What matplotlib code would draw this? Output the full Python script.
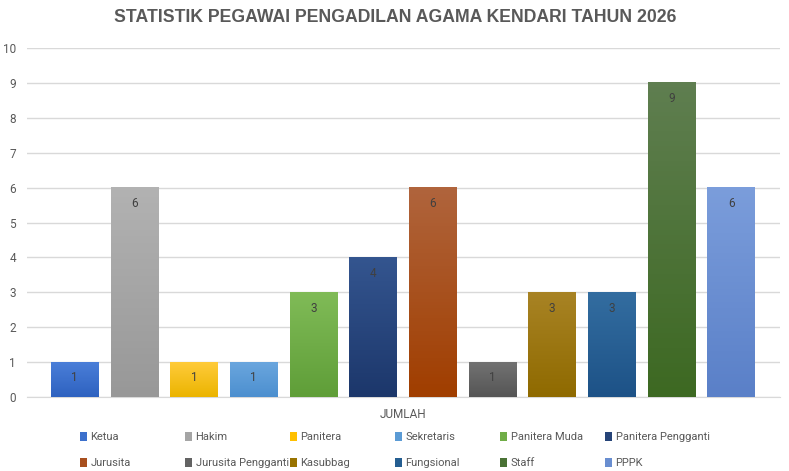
import matplotlib
matplotlib.use('Agg')
import matplotlib.pyplot as plt
import numpy as np
from matplotlib.colors import LinearSegmentedColormap

plt.rcParams['font.family'] = ['Roboto', 'Liberation Sans', 'DejaVu Sans']

categories = ['Ketua', 'Hakim', 'Panitera', 'Sekretaris', 'Panitera Muda', 'Panitera Pengganti',
              'Jurusita', 'Jurusita Pengganti', 'Kasubbag', 'Fungsional', 'Staff', 'PPPK']
values = [1, 6, 1, 1, 3, 4, 6, 1, 3, 3, 9, 6]
group_label = 'JUMLAH'
title = 'STATISTIK PEGAWAI PENGADILAN AGAMA KENDARI TAHUN 2026'

# (top, bottom) gradient colours
grad = [('#4a7ed8', '#2e62c0'), ('#b2b2b2', '#989898'), ('#ffcb3a', '#ebb400'),
        ('#6aa6de', '#4c8fcf'), ('#80bb57', '#5f9e38'), ('#34558f', '#1c376b'),
        ('#b0643c', '#a03e00'), ('#727272', '#555555'), ('#a88324', '#8f6a00'),
        ('#336da0', '#1d5287'), ('#5f7e50', '#3d6922'), ('#7b9ddb', '#5a80c8')]
mid = ['#3c70cc', '#a5a5a5', '#ffc000', '#5b9bd5', '#70ad47', '#264478',
       '#a84f1e', '#636363', '#997300', '#255e91', '#4a7235', '#698ed0']

fig = plt.figure(figsize=(7.89, 4.71), dpi=100)
ax = fig.add_axes([27/789, 1-397/471, (780-27)/789, (397-48)/471])

x = np.arange(len(values))
bars = ax.bar(x, values, width=0.8, color=mid, zorder=2)

for b, (top, bot) in zip(bars, grad):
    cmap = LinearSegmentedColormap.from_list('g', [bot, top])
    x0, w, h = b.get_x(), b.get_width(), b.get_height()
    ax.imshow(np.linspace(0, 1, 64).reshape(-1, 1), cmap=cmap, origin='lower',
              extent=(x0, x0 + w, 0, h), aspect='auto', zorder=3)
    ax.annotate(str(int(h)), (x0 + w/2, h), xytext=(0, -16), textcoords='offset points',
                ha='center', va='bottom', fontsize=8.5, color='#404040', zorder=4)

ax.set_xlim(-0.8, 11.82)
ax.set_ylim(0, 10)
ax.set_yticks(range(0, 11))
ax.set_xticks([(len(values) - 1) / 2])
ax.set_xticklabels([group_label])
ax.tick_params(length=0, labelsize=8.5, colors='#595959')
ax.tick_params(axis='y', pad=8)
ax.tick_params(axis='x', pad=8)
ax.grid(axis='y', color='#d9d9d9', linewidth=1, zorder=0)
ax.set_axisbelow(True)
for s in ['top', 'right', 'left']:
    ax.spines[s].set_visible(False)
ax.spines['bottom'].set_color('#d9d9d9')

fig.text(395/789, 1-18/471, title, ha='center', va='center', fontsize=12.7,
         fontweight='bold', color='#595959', family=['Liberation Sans', 'DejaVu Sans'])

for col in range(6):
    fig.legend([bars[col], bars[col + 6]], [categories[col], categories[col + 6]],
               loc='upper left', bbox_to_anchor=((80 + 105*col)/789, 1-432/471),
               frameon=False, fontsize=8, labelcolor='#595959', ncol=1,
               handlelength=0.65, handleheight=0.8, handletextpad=0.3,
               labelspacing=1.45, borderpad=0, borderaxespad=0)

fig.savefig('out.png', dpi=100)
